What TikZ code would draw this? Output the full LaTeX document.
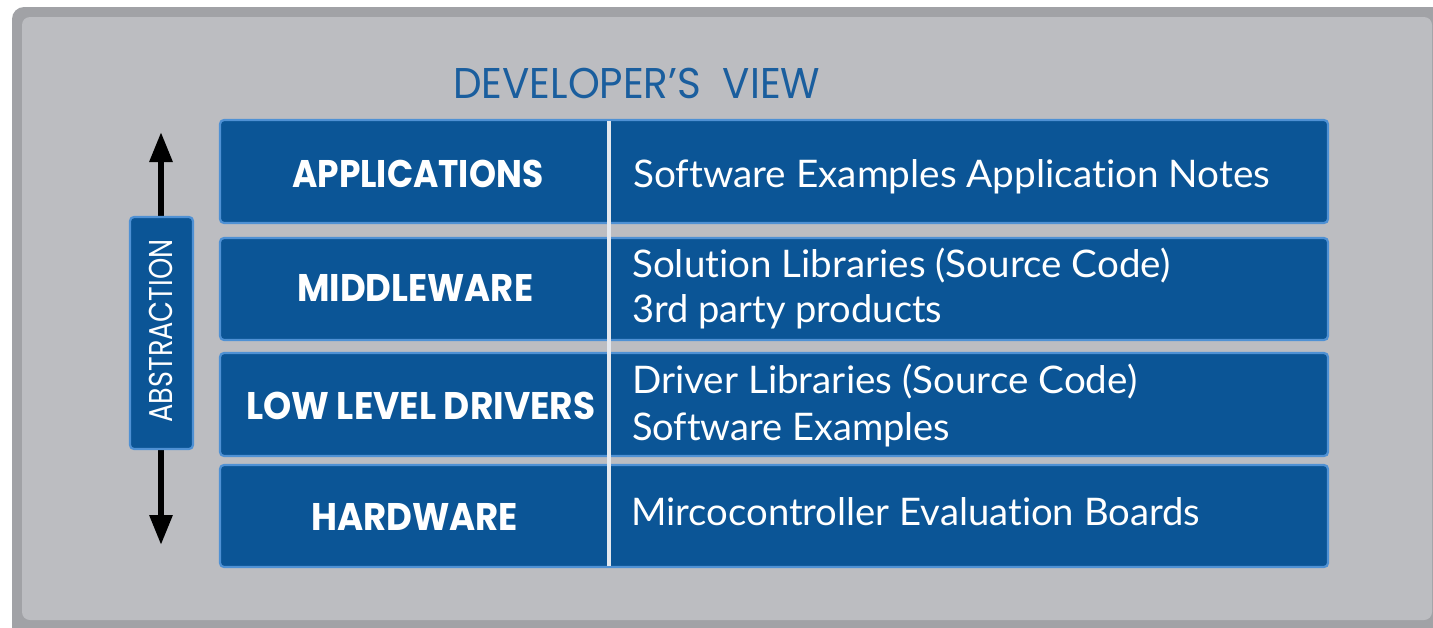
\documentclass[tikz,border=0pt]{standalone}
\usepackage{fontspec}
\setmainfont{Lato}[Ligatures={NoCommon,NoRare,NoContextual}]
\newfontfamily\popfont{Poppins}[Ligatures={NoCommon,NoRare,NoContextual}]
\usepackage{graphicx}
\usetikzlibrary{arrows.meta}
\definecolor{framedark}{HTML}{A1A2A6}
\definecolor{framelight}{HTML}{BCBDC1}
\definecolor{boxblue}{HTML}{0B5596}
\definecolor{boxedge}{HTML}{4F91D4}
\definecolor{titleblue}{HTML}{1A5E9E}
\definecolor{sepline}{HTML}{E4E8EE}
\newcommand{\fitw}[2]{\resizebox{#1pt}{\height}{#2}}
\begin{document}
\begin{tikzpicture}[x=1pt,y=-1pt,
  rowbox/.style={draw=boxedge, line width=2.2pt, fill=boxblue, rounded corners=4pt, inner sep=0pt, outer sep=0pt},
  lbl/.style={inner sep=0pt, anchor=base west, text=white, font=\popfont\bfseries\fontsize{38.5}{40}\selectfont},
  desc/.style={inner sep=0pt, anchor=base west, text=white, font=\fontsize{38}{40}\selectfont},
  arrowline/.style={line width=6pt, black, -{Triangle[width=22pt,length=30pt]}},
  sepstyle/.style={draw=sepline, line width=3.5pt},
]
\useasboundingbox (0,0) rectangle (1433,627);
\fill[white] (0,0) rectangle (1433,627);
% frame
\fill[framedark, rounded corners=12pt] (12,7) rectangle (1460,650);
\fill[framelight, rounded corners=8pt] (22,17) rectangle (1432,620);

% title
\node[anchor=base west, inner sep=0pt, text=titleblue, font=\popfont\fontsize{43}{45}\selectfont] (title) at (453,98) {\fitw{367}{DEVELOPER’S\ \ VIEW}};

% arrows
\coordinate (uptip) at (161,132);
\coordinate (dntip) at (161,545);
\coordinate (absn) at (161,230);
\coordinate (abss) at (161,436);
\draw[arrowline] (absn) -- (uptip);
\draw[arrowline] (abss) -- (dntip);

% abstraction box
\node[rowbox, minimum width=63pt, minimum height=232pt, anchor=north west] (abs) at (130,217) {};
\node[rotate=90, inner sep=0pt, text=white, font=\popfont\fontsize{33}{35}\selectfont] (abstxt) at (161,331) {\fitw{183}{ABSTRACTION}};

% rows
\node[rowbox, minimum width=1108pt, minimum height=103pt, anchor=north west] (r1) at (220,120) {};
\node[rowbox, minimum width=1108pt, minimum height=102pt, anchor=north west] (r2) at (220,238) {};
\node[rowbox, minimum width=1108pt, minimum height=103pt, anchor=north west] (r3) at (220,353) {};
\node[rowbox, minimum width=1108pt, minimum height=102pt, anchor=north west] (r4) at (220,465) {};

% separator
\coordinate (septop) at (609,121);
\coordinate (sepbot) at (609,566);
\draw[sepstyle] (septop) -- (sepbot);

% labels
\node[lbl] (l1) at (292,187) {\fitw{251}{APPLICATIONS}};
\node[lbl] (l2) at (297,301) {\fitw{236}{MIDDLEWARE}};
\node[lbl] (l3) at (246,419) {\fitw{349}{LOW LEVEL DRIVERS}};
\node[lbl] (l4) at (311,530) {\fitw{207}{HARDWARE}};

% descriptions
\node[desc] (d1) at (633,187) {\fitw{637}{Software Examples Application Notes}};
\node[desc] (d2a) at (632,277) {\fitw{538}{Solution Libraries (Source Code)}};
\node[desc] (d2b) at (632,322) {\fitw{310}{3rd party products}};
\node[desc] (d3a) at (632,393) {\fitw{505}{Driver Libraries (Source Code)}};
\node[desc] (d3b) at (632,440) {\fitw{318}{Software Examples}};
\node[desc] (d4) at (631,525) {\fitw{569}{Mircocontroller Evaluation Boards}};
\end{tikzpicture}
\end{document}
